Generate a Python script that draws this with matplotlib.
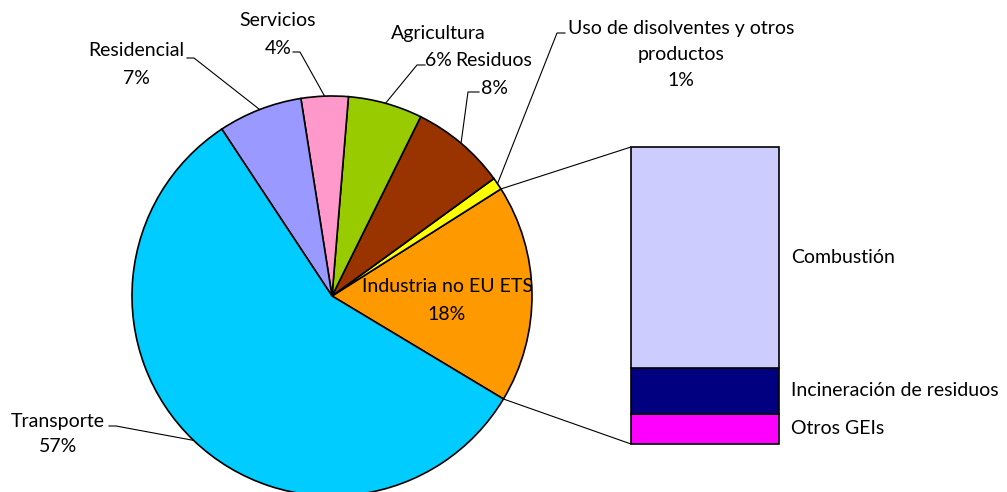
import numpy as np
import matplotlib.pyplot as plt
from matplotlib.patches import ConnectionPatch

plt.rcParams['font.family'] = ['Lato', 'DejaVu Sans']

# emission shares by sector (%), counter-clockwise from the orange wedge
sectors = ['Industria no EU ETS', 'Uso de disolventes y otros\nproductos', 'Residuos',
           'Agricultura', 'Servicios', 'Residencial', 'Transporte']
shares = [17.6, 1.0, 7.7, 6.0, 3.8, 6.8, 57.1]
pie_colors = ['#FF9900', '#FFFF00', '#993300', '#99CC00', '#FF99CC', '#9999FF', '#00CCFF']

# breakdown of the industry wedge, bottom to top
parts = ['Otros GEIs', 'Incineración de residuos', 'Combustión']
part_values = [1.8, 2.7, 13.1]
part_colors = ['#FF00FF', '#000080', '#CCCCFF']

W, H = 1007, 492
fig = plt.figure(figsize=(W / 100, H / 100), dpi=100)
ax = fig.add_axes([0, 0, 1, 1])

cx, cy, r = 332, H - 296, 200
wedges, _ = ax.pie(shares, colors=pie_colors, startangle=-31, counterclock=True,
                   center=(cx, cy), radius=r,
                   wedgeprops=dict(edgecolor='black', linewidth=1.2))
ax.set_xlim(0, W)
ax.set_ylim(0, H)
ax.set_aspect('equal')
ax.axis('off')

fs = 14


def edge_point(w, ang=None):
    if ang is None:
        ang = (w.theta1 + w.theta2) / 2
    a = np.deg2rad(ang)
    return cx + r * np.cos(a), cy + r * np.sin(a)


# label x, name y, percent y (px from top) and leader hook for each wedge
label_pos = {
    'Industria no EU ETS': (447, 286, 314, None),
    'Uso de disolventes y otros\nproductos': (681, 41.5, 81, ((565, 33), (557, 33))),
    'Residuos': (494, 60, 88, ((479, 92), (468, 92))),
    'Agricultura': (438, 33, 60, ((425, 65), (417, 65))),
    'Servicios': (278, 20, 48, ((293, 52), (300, 52))),
    'Residencial': (136, 50, 78, ((187, 58), (194, 58))),
    'Transporte': (58, 421, 447, ((109, 426), (116, 426))),
}

for name, val, w in zip(sectors, shares, wedges):
    x, y_name, y_pct, hook = label_pos[name]
    ax.text(x, H - y_name, name, ha='center', va='center', fontsize=fs,
            linespacing=1.6)
    ax.text(x, H - y_pct, f'{val:.0f}%', ha='center', va='center', fontsize=fs)
    if hook:
        ex, ey = edge_point(w)
        (x0, y0), (x1, y1) = hook
        ax.plot([x0, x1, ex], [H - y0, H - y1, ey], color='black', lw=0.8)

# stacked bar for the industry breakdown
bx = fig.add_axes([631 / W, (H - 444) / H, 148 / W, 297 / H])
bottom = 0
for name, val, col in zip(parts, part_values, part_colors):
    bx.bar(0, val, bottom=bottom, width=1, color=col, edgecolor='black',
           linewidth=1.2, clip_on=False)
    bx.text(0.58, bottom + val / 2, name, ha='left', va='center', fontsize=fs,
            clip_on=False)
    bottom += val
bx.set_xlim(-0.5, 0.5)
bx.set_ylim(0, sum(part_values))
bx.axis('off')

ind = wedges[0]
for ang, yb in [(ind.theta2, sum(part_values)), (ind.theta1, 0)]:
    con = ConnectionPatch(xyA=(-0.5, yb), coordsA=bx.transData,
                          xyB=edge_point(ind, ang), coordsB=ax.transData,
                          color='black', lw=0.8)
    fig.add_artist(con)

fig.savefig('out.png', dpi=100)
